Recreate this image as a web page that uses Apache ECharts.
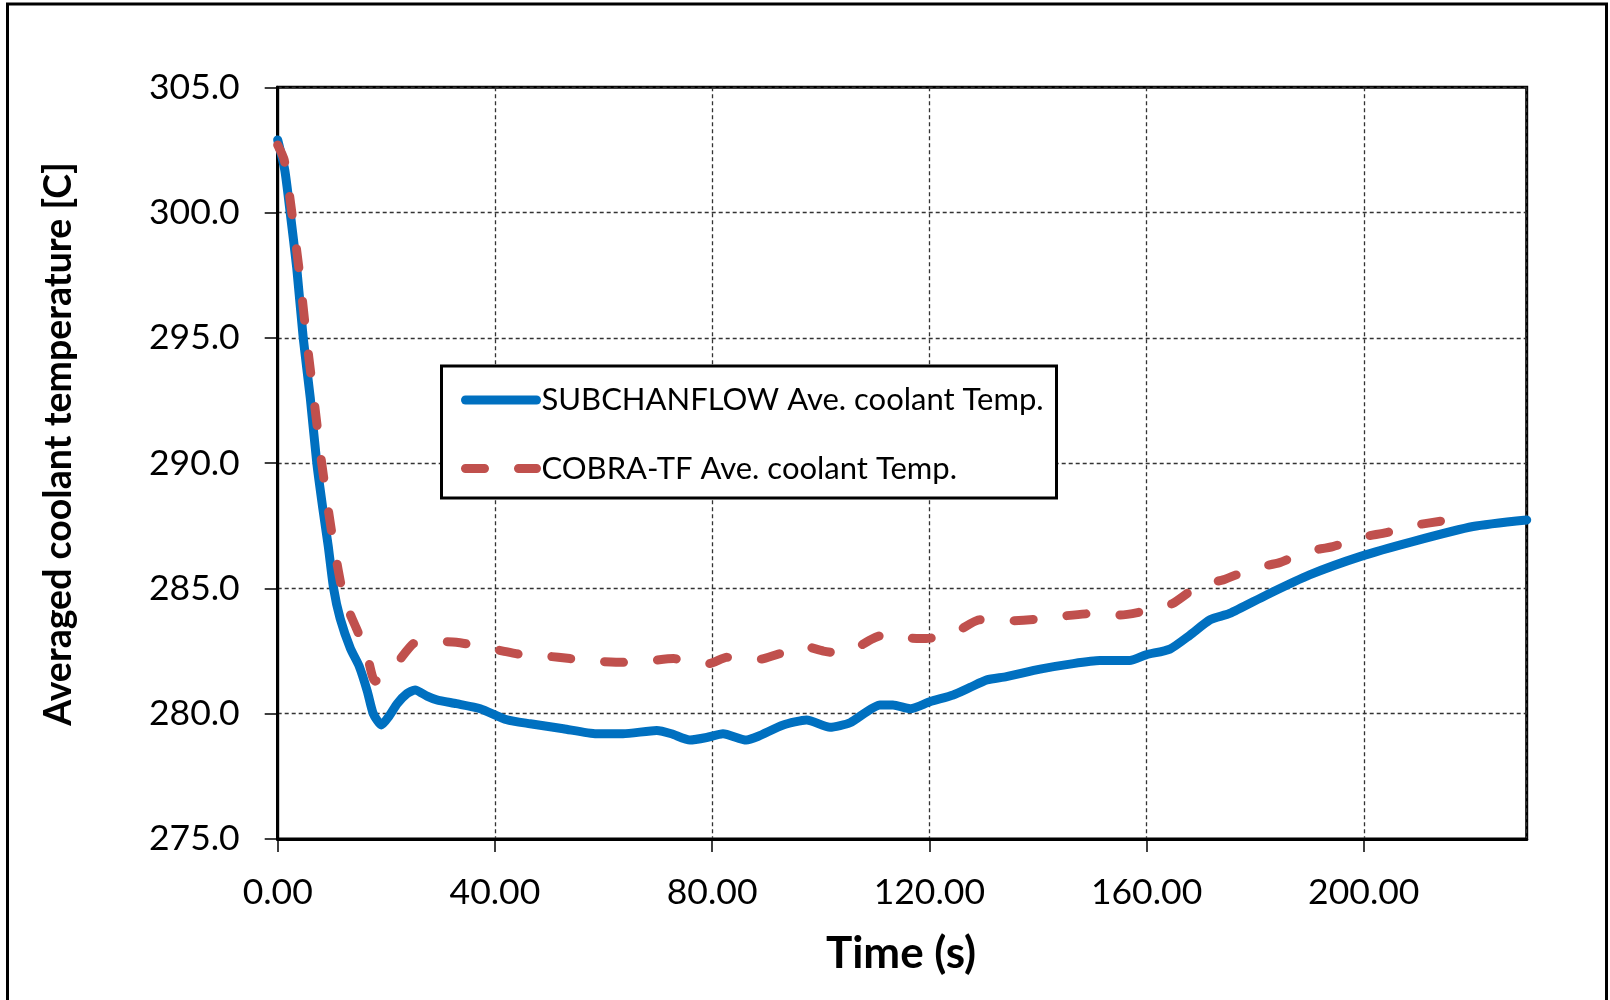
<!DOCTYPE html>
<html>
<head>
<meta charset="utf-8">
<script src="https://cdn.jsdelivr.net/npm/echarts@6/dist/echarts.min.js"></script>
<style>
  html, body { margin: 0; padding: 0; background: #fff; }
  #chart { width: 1610px; height: 1000px; }
</style>
</head>
<body>
<div id="chart"></div>
<script>
// SUBCHANFLOW average coolant temperature (time in s, temp in C)
const subTime = [0, 1.3, 2.3, 3.5, 4.7, 6.0, 7.2, 8.3, 9.3, 10.3, 11.5, 13.4, 15.0, 16.5, 17.6, 19.1, 20.5, 22.0, 23.8, 25.3, 27.5, 29.3, 32.9, 37.3, 42.2, 46.5, 52.6, 58.7, 63.6, 69.8, 72.5, 75.9, 79.0, 82.0, 86.3, 88.5, 93.1, 97.4, 101.7, 105.4, 110.9, 113.3, 116.5, 120.1, 124.4, 127.5, 130.6, 134.2, 140.4, 146.5, 151.4, 156.9, 159.9, 164.3, 168.0, 171.7, 175.3, 182.1, 190.0, 199.3, 209.0, 220.1, 230];
const subTemp = [302.9, 301.7, 300.0, 297.8, 295.0, 292.6, 290.0, 288.2, 286.7, 285.0, 283.8, 282.6, 281.9, 280.9, 280.0, 279.55, 279.9, 280.4, 280.8, 280.95, 280.7, 280.55, 280.4, 280.2, 279.76, 279.6, 279.4, 279.2, 279.2, 279.33, 279.2, 278.95, 279.05, 279.2, 278.95, 279.1, 279.55, 279.75, 279.46, 279.64, 280.35, 280.35, 280.2, 280.48, 280.75, 281.05, 281.35, 281.48, 281.78, 282.0, 282.12, 282.12, 282.35, 282.58, 283.14, 283.75, 284.0, 284.74, 285.54, 286.27, 286.87, 287.47, 287.73];

// COBRA-TF average coolant temperature
const cobraTime = [0, 1.2, 2.6, 4.0, 5.3, 6.7, 8.1, 9.9, 11.8, 13.3, 14.5, 16.4, 17.9, 19.5, 21.9, 25.0, 28.0, 32.9, 37.0, 41.5, 45.2, 49.5, 53.8, 58.5, 63.6, 68.0, 72.9, 76.6, 79.5, 82.7, 86.3, 89.5, 92.5, 96.8, 100.5, 104.1, 109.6, 112.1, 113.9, 119.4, 124.4, 129.3, 134.2, 139.7, 144.7, 150.2, 155.2, 160.6, 164.8, 169.8, 174.1, 179.6, 184.5, 189.4, 194.3, 199.5, 204.2, 209.7, 214.6, 217];
const cobraTemp = [302.7, 302.1, 300.0, 297.6, 295.0, 292.5, 290.0, 287.3, 285.0, 284.0, 283.4, 282.4, 281.3, 281.5, 282.0, 282.8, 282.9, 282.85, 282.7, 282.5, 282.35, 282.3, 282.2, 282.1, 282.05, 282.1, 282.2, 282.0, 282.0, 282.25, 282.1, 282.2, 282.4, 282.7, 282.5, 282.4, 283.0, 283.18, 283.05, 283.0, 283.2, 283.75, 283.7, 283.77, 283.9, 284.0, 283.94, 284.14, 284.4, 285.14, 285.34, 285.8, 286.03, 286.47, 286.67, 287.04, 287.23, 287.53, 287.7, 287.8];

const seriesNames = ["SUBCHANFLOW Ave. coolant Temp.", "COBRA-TF Ave. coolant Temp."];
const xTitle = "Time (s)";
const yTitle = "Averaged coolant temperature [C]";

const fontName = "Lato";

const chart = echarts.init(document.getElementById("chart"));

const option = {
    animation: false,
    backgroundColor: "#fff",
    grid: {
        left: 277.7, right: 83.3, top: 87.3, bottom: 161,
        show: true, borderColor: "#000", borderWidth: 3
    },
    xAxis: {
        type: "value",
        min: 0, max: 230, interval: 40,
        axisLine: { lineStyle: { color: "#000", width: 3 } },
        axisTick: { inside: false, length: 13, lineStyle: { color: "#000", width: 1.5 } },
        axisLabel: {
            margin: 36, showMaxLabel: false,
            color: "#000", fontFamily: fontName, fontSize: 35.5,
            formatter: v => v.toFixed(2)
        },
        splitLine: { lineStyle: { color: "#333", width: 1.3, type: [4, 3] } }
    },
    yAxis: {
        type: "value",
        min: 275, max: 305, interval: 5,
        axisLine: { show: true, lineStyle: { color: "#000", width: 3 } },
        axisTick: { show: true, inside: false, length: 13, lineStyle: { color: "#000", width: 1.5 } },
        axisLabel: {
            margin: 38, color: "#000", fontFamily: fontName, fontSize: 35.5,
            formatter: v => v.toFixed(1)
        },
        splitLine: { lineStyle: { color: "#333", width: 1.3, type: [4, 3] } }
    },
    legend: {
        orient: "vertical",
        left: 461, top: 383,
        padding: 0,
        itemWidth: 71, itemHeight: 20, itemGap: 34.5,
        itemStyle: { opacity: 0 },
        lineStyle: { width: 9, cap: "round" },
        textStyle: { color: "#000", fontFamily: fontName, fontSize: 31, lineHeight: 34 },
        data: seriesNames
    },
    graphic: [
        {
            type: "rect", z: 3, silent: true,
            shape: { x: 441.5, y: 366, width: 615, height: 132 },
            style: { fill: "#fff", stroke: "#000", lineWidth: 3 }
        },
        {
            type: "rect", z: 0, silent: true,
            shape: { x: 7.5, y: 4, width: 1599, height: 1010 },
            style: { fill: "none", stroke: "#000", lineWidth: 3 }
        },
        {
            type: "text", x: 901, y: 954, silent: true,
            style: {
                text: xTitle, fill: "#000", fontFamily: fontName, fontWeight: "bold", fontSize: 44,
                textAlign: "center", textVerticalAlign: "middle"
            }
        },
        {
            type: "text", x: 58.5, y: 444, rotation: Math.PI / 2, silent: true,
            style: {
                text: yTitle, fill: "#000", fontFamily: fontName, fontWeight: "bold", fontSize: 37.5,
                textAlign: "center", textVerticalAlign: "middle"
            }
        }
    ],
    series: [
        {
            name: seriesNames[0],
            type: "line",
            showSymbol: false, symbol: "none",
            smooth: 0.2,
            data: subTime.map((t, i) => [t, subTemp[i]]),
            lineStyle: { color: "#0070C0", width: 9, cap: "round", join: "round" },
            itemStyle: { color: "#0070C0" },
            z: 2
        },
        {
            name: seriesNames[1],
            type: "line",
            showSymbol: false, symbol: "none",
            smooth: 0.2,
            data: cobraTime.map((t, i) => [t, cobraTemp[i]]),
            lineStyle: { color: "#C0504D", width: 9, type: [19, 34], cap: "round", join: "round" },
            itemStyle: { color: "#C0504D" },
            z: 3
        }
    ]
};

chart.setOption(option);
</script>
</body>
</html>
